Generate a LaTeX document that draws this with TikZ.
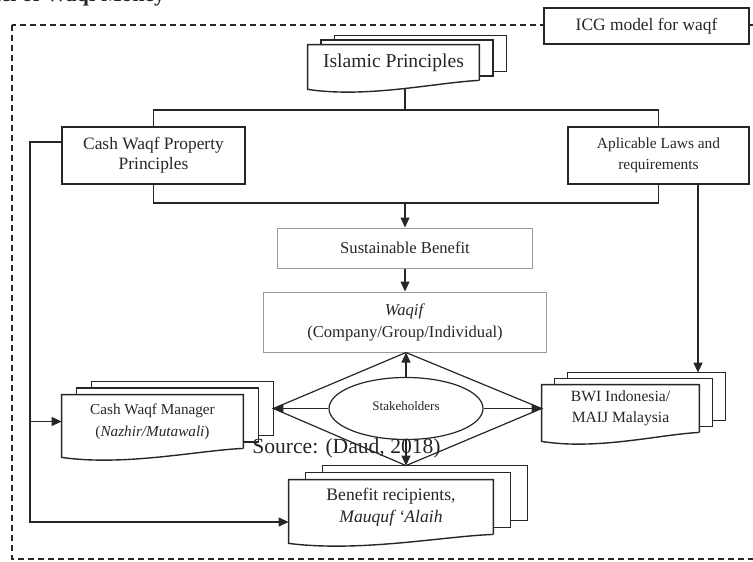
\documentclass[tikz,border=0pt]{standalone}
\usepackage{fontspec}
\setmainfont{Liberation Serif}
\usetikzlibrary{calc, shapes.geometric, arrows.meta}

\newcommand{\sizeto}[2]{\fontsize{#1}{#2}\selectfont}

\tikzset{
  box/.style={draw=black!85, line width=0.7pt, text=black!85, align=center, inner sep=0pt},
  softbox/.style={draw=black!40, line width=0.5pt, text=black!85, align=center, inner sep=0pt},
  docnode/.style={text=black!85, align=center, inner sep=0pt},
  docline/.style={draw=black!85, line width=0.7pt},
  link/.style={draw=black!85, line width=0.6pt},
  arr/.style={link, -{Triangle[length=5pt,width=4.5pt]}},
}

% stacked documents behind node #1, layer offsets #2 (right) and #3 (up)
\newcommand{\multidoc}[3]{%
  \draw[docline] ([xshift=#2]#1.north west) -- ([xshift=#2,yshift=#3]#1.north west)
    -- ([xshift=#2,yshift=#3]#1.north east) -- ([xshift=#2,yshift=#3]#1.south east)
    -- ([yshift=#3]#1.south east);
  \draw[docline] ([xshift=2*#2,yshift=#3]#1.north west) -- ([xshift=2*#2,yshift=2*#3]#1.north west)
    -- ([xshift=2*#2,yshift=2*#3]#1.north east) -- ([xshift=2*#2,yshift=2*#3]#1.south east)
    -- ([xshift=#2,yshift=2*#3]#1.south east);
  \draw[docline] (#1.south east) -- (#1.north east) -- (#1.north west) -- ([yshift=-4.5pt]#1.south west)
    .. controls ([yshift=-9pt]$(#1.south west)!0.35!(#1.south east)$) and ([yshift=-1pt]$(#1.south west)!0.75!(#1.south east)$) .. (#1.south east);
  \coordinate (#1-back) at ([xshift=2*#2,yshift=2*#3]#1.north);
  \coordinate (#1-backeast) at ([xshift=2*#2,yshift=2*#3]#1.east);
}

\begin{document}
\begin{tikzpicture}[x=0.5pt,y=-0.5pt]
  \useasboundingbox (0,0) rectangle (753,561);
  % title, cut at the top
  \node[anchor=base east, font=\bfseries\sizeto{10.8}{13}, text=black!85] (title) at (172,2) {Model of Waqf Money};
  % frame
  \draw[link, dash pattern=on 3pt off 2pt] (12,25) rectangle (780,559);
  \node[box, fill=white, minimum width=102.5pt, minimum height=18pt, font=\sizeto{8.7}{10}] (icg) at (646.5,26) {ICG model for waqf};

  % boxes
  \node[docnode, minimum width=85.5pt, minimum height=17.5pt, font=\sizeto{9.8}{12}] (islam) at (393.5,62.5) {Islamic Principles};
  \node[box, minimum width=91.5pt, minimum height=28.5pt, font=\sizeto{8.7}{10}] (cwpp) at (153.5,155.5) {Cash Waqf Property\\Principles};
  \node[box, minimum width=90.5pt, minimum height=28.5pt, font=\sizeto{7.7}{10.5}] (laws) at (658.5,155.5) {Aplicable Laws and\\requirements};
  \node[softbox, minimum width=127.5pt, minimum height=20pt, font=\sizeto{8.3}{10}] (sust) at (405,248) {Sustainable Benefit};
  \node[softbox, minimum width=141.5pt, minimum height=30pt, font=\sizeto{8.3}{11}] (waqif) at (405,322) {\textit{Waqif}\\(Company/Group/Individual)};
  \node[docnode, minimum width=90.5pt, minimum height=26.5pt, font=\sizeto{7.6}{11}] (cwm) at (152.5,421.5) {Cash Waqf Manager\\(\textit{Nazhir/Mutawali})};
  \node[docnode, minimum width=78.5pt, minimum height=23.5pt, font=\sizeto{7.8}{10.5}] (bwi) at (620.5,408.5) {BWI Indonesia/\\MAIJ Malaysia};
  \node[docnode, minimum width=102pt, minimum height=27pt, font=\sizeto{8.8}{11}] (benef) at (391,507) {Benefit recipients,\\\textit{Mauquf `Alaih}};
  \node[ellipse, draw=black!85, line width=0.6pt, minimum width=77pt, minimum height=31pt, inner sep=0pt, font=\sizeto{6.5}{8}, text=black!85] (stake) at (406,408.5) {\raisebox{3pt}{Stakeholders}};

  \multidoc{islam}{6.75pt}{2.25pt}
  \multidoc{cwm}{7.5pt}{3.25pt}
  \multidoc{bwi}{6.5pt}{3pt}
  \multidoc{benef}{8.5pt}{3.5pt}

  % upper links
  \coordinate (topbus) at (405,110);
  \coordinate (botbus) at (405,203);
  \draw[link] ($(islam.south -| topbus)+(0,8)$) -- (topbus);
  \draw[link] (cwpp.north) |- (topbus) -| (laws.north);
  \draw[link] (cwpp.south) |- (botbus) -| (laws.south);
  \draw[arr] (botbus) -- (sust.north);
  \draw[arr] (sust.south) -- (waqif.north);
  \coordinate (lawsdrop) at ([xshift=19.75pt]laws.south);
  \draw[arr] (lawsdrop) -- (lawsdrop |- bwi-back);

  % stakeholders diamond
  \coordinate (dtop) at (stake.north |- waqif.south);
  \coordinate (dbot) at (stake.south |- benef-back);
  \draw[link] (dtop) -- (bwi.west) -- (dbot) -- (cwm-backeast) -- cycle;
  \draw[arr] (stake.north) -- (dtop);
  \draw[arr] (stake.south) -- (dbot);
  \draw[arr] (stake.west) -- (cwm-backeast);
  \draw[arr] (stake.east) -- (bwi.west);

  % left feedback line
  \coordinate (fbstart) at ([yshift=6.75pt]cwpp.west);
  \coordinate (fbtop) at (30,142);
  \coordinate (fbend) at (benef.west |- 0,522);
  \draw[arr] (fbstart) -- (fbtop) |- (fbend);
  \draw[arr] (fbtop |- cwm.west) -- (cwm.west);

  \node[anchor=base, font=\sizeto{10.8}{13}, text=black!85] (source) at (346.5,453) {Source: (Daud, 2018)};
\end{tikzpicture}
\end{document}
